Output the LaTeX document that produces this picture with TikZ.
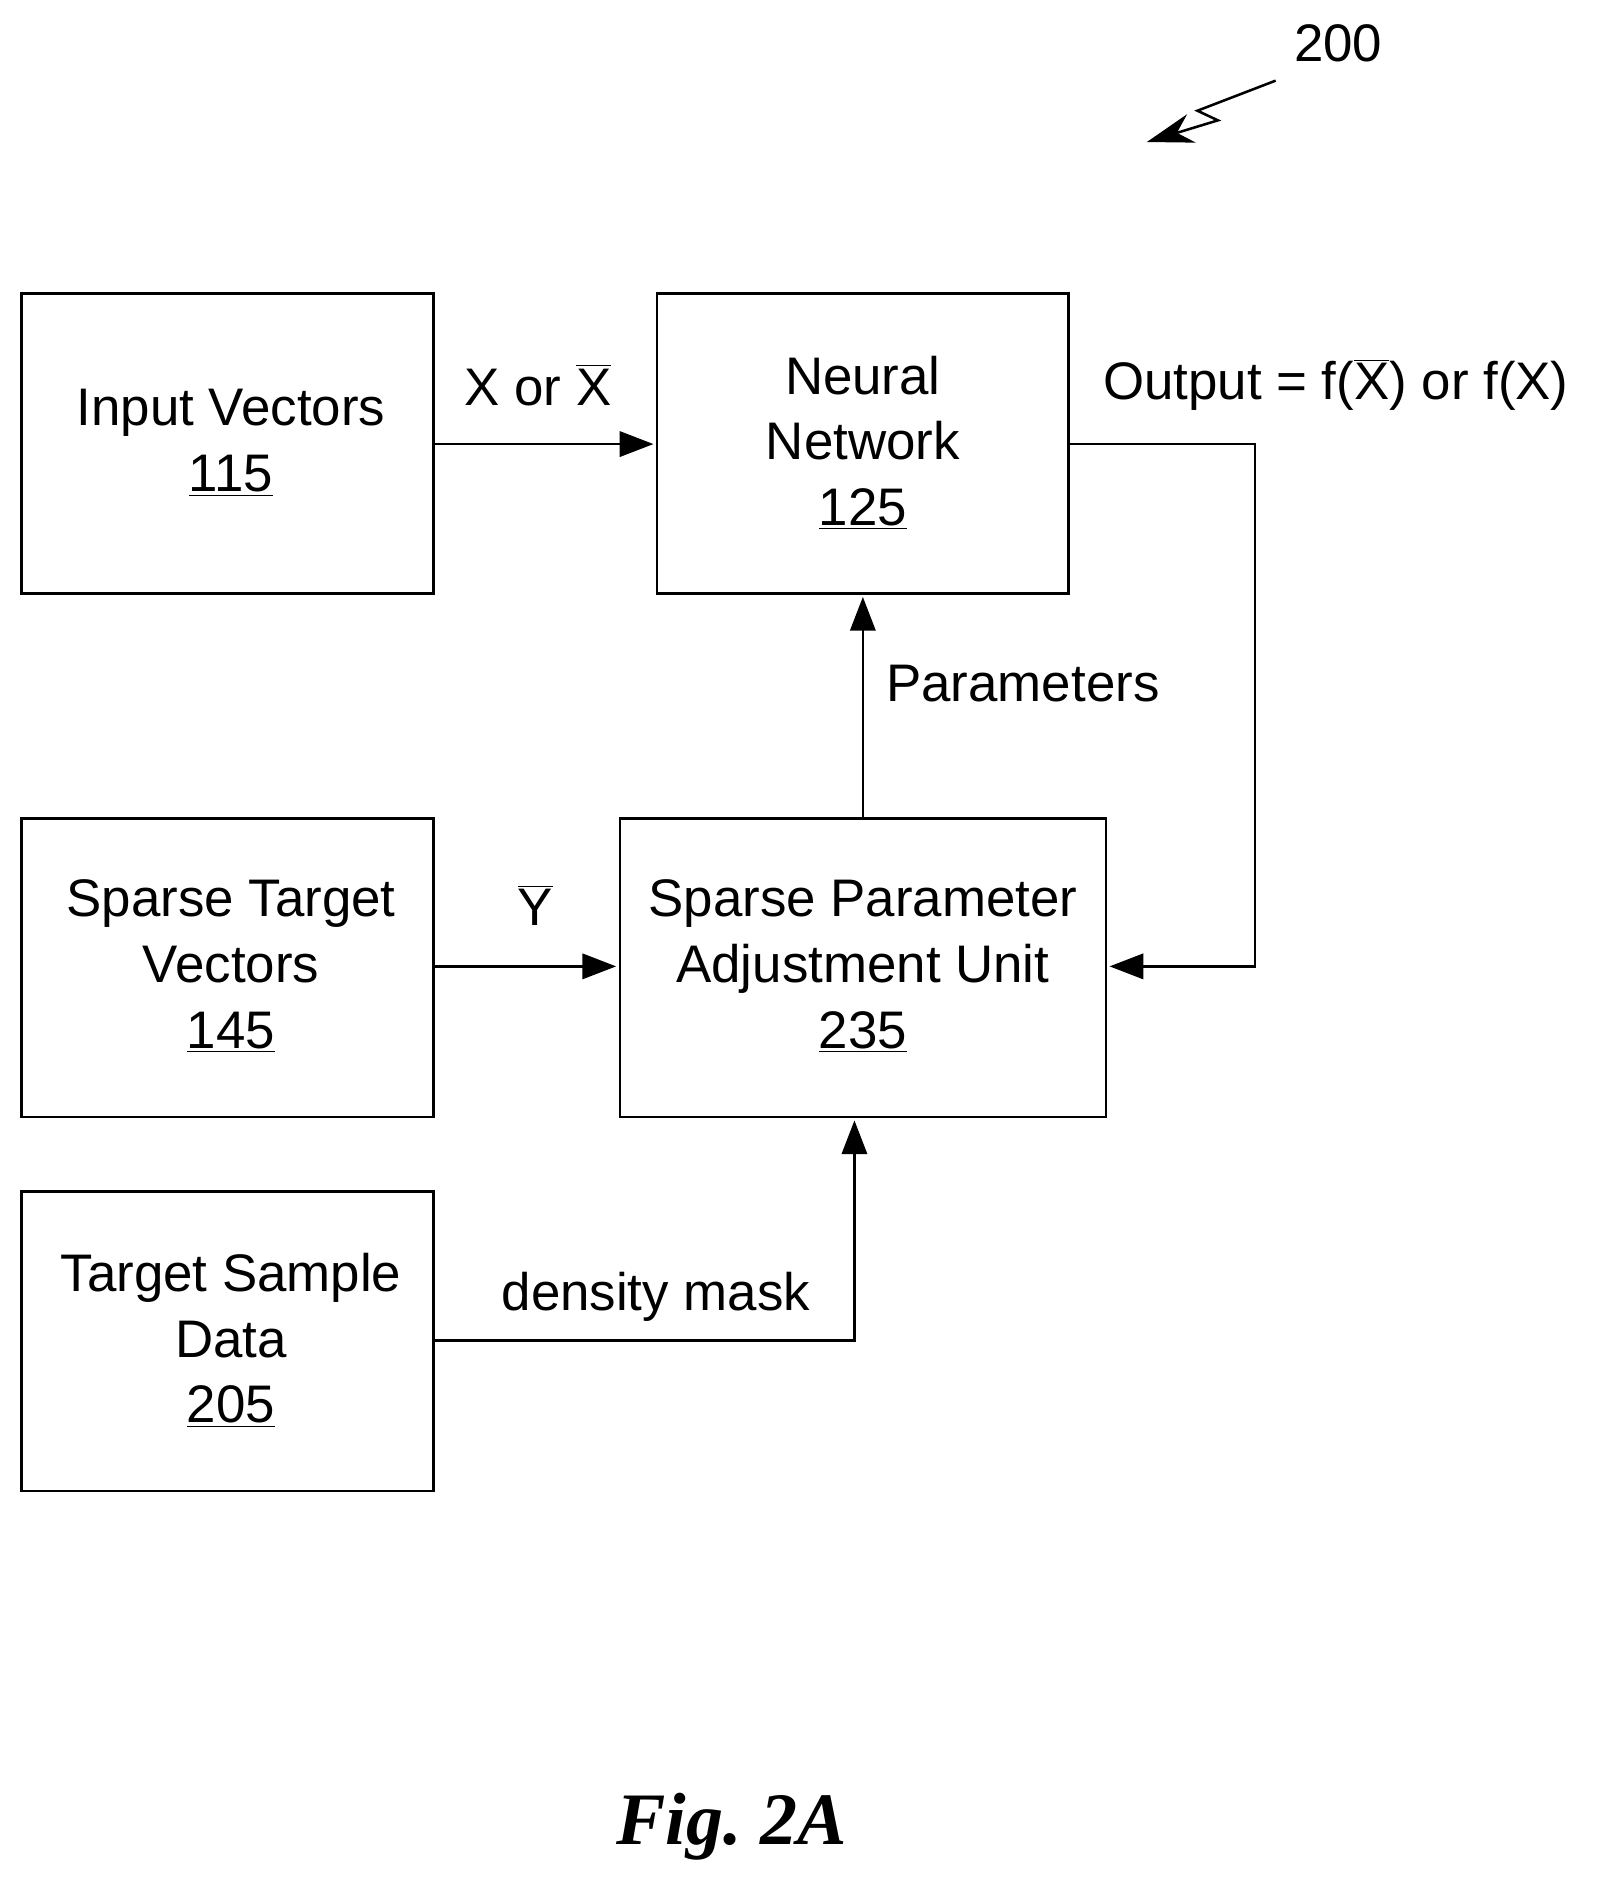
\documentclass[tikz,border=0pt]{standalone}
\usepackage{fontspec}
\setmainfont{Liberation Sans}
\newfontfamily\figfont{Liberation Serif}
\usetikzlibrary{arrows.meta}
\newcommand{\ovl}[1]{\ensuremath{\overline{\mbox{#1}}}}
\begin{document}
\begin{tikzpicture}[x=0.02cm,y=-0.02cm,
  box/.style={draw,line width=1.2pt,inner sep=0},
  txt/.style={font=\fontsize{25}{31}\selectfont,align=center},
  arr/.style={line width=1.2pt,-{Triangle[length=16pt,width=12pt]}},
  ln/.style={line width=1.2pt}]
\useasboundingbox (0,0) rectangle (1329,1573);
\draw[box] (18,244) rectangle (360,493);
\node[txt] (in) at (192,368) {Input Vectors\\\underline{115}};
\draw[box] (546,244) rectangle (888,493);
\node[txt] (nn) at (717,368) {Neural\\Network\\\underline{125}};
\draw[box] (18,680) rectangle (360,928);
\node[txt] (st) at (192,803) {Sparse Target\\Vectors\\\underline{145}};
\draw[box] (515,680) rectangle (919,928);
\node[txt] (sp) at (717,803) {Sparse Parameter\\Adjustment Unit\\\underline{235}};
\draw[box] (18,990) rectangle (360,1239);
\node[txt] (ts) at (192,1114) {Target Sample\\Data\\\underline{205}};
\coordinate (a1) at (360,369); \coordinate (a2) at (543,369);
\draw[arr] (a1) -- (a2);
\node[txt] (l1) at (447,320) {X or \ovl{X}};
\coordinate (o1) at (888,369); \coordinate (o2) at (1043,369);
\coordinate (o3) at (1043,803); \coordinate (o4) at (922,803);
\draw[arr] (o1) -- (o2) -- (o3) -- (o4);
\node[txt] (l2) at (1110,320) {Output = f(\ovl{X}) or f(X)};
\coordinate (p1) at (717,680); \coordinate (p2) at (717,496);
\draw[arr] (p1) -- (p2);
\node[txt] (l3) at (850,568) {Parameters};
\coordinate (y1) at (360,803); \coordinate (y2) at (512,803);
\draw[arr] (y1) -- (y2);
\node[txt] (l4) at (445,752) {\ovl{Y}};
\coordinate (d1) at (360,1114); \coordinate (d2) at (710,1114); \coordinate (d3) at (710,931);
\draw[arr] (d1) -- (d2) -- (d3);
\node[txt] (l5) at (545,1078) {density mask};
\node[txt] (n200) at (1112,36) {200};
\coordinate (z1) at (1060,67); \coordinate (z2) at (995,92);
\coordinate (z3) at (1012,100); \coordinate (z4) at (953,118);
\draw[ln,-{Stealth[length=22pt,width=14pt]}] (z1) -- (z2) -- (z3) -- (z4);
\node[font=\figfont\bfseries\itshape\fontsize{35}{42}\selectfont] (fig) at (608,1518) {Fig.\ 2A};
\end{tikzpicture}
\end{document}
